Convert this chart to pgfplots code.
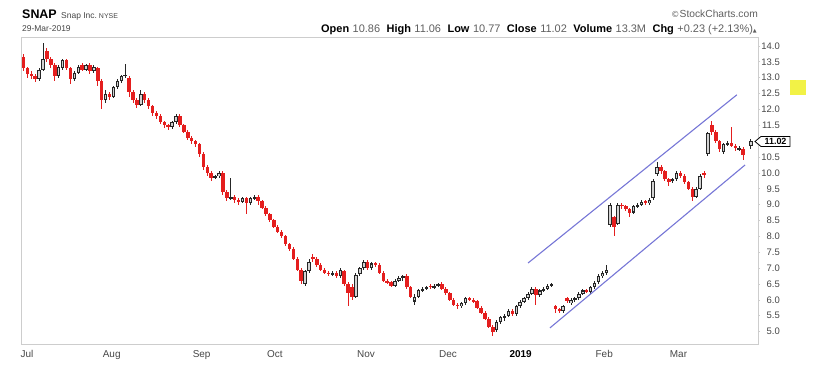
\documentclass[border=0pt]{standalone}
\usepackage{pgfplots}
\pgfplotsset{compat=1.18}
\usepackage{pgfplotstable}
\usepackage{fontspec}
\setmainfont{Liberation Sans}
\newfontfamily\dejavu{DejaVu Sans}
\definecolor{scred}{RGB}{228,30,30}
\definecolor{chan}{RGB}{118,118,214}
\definecolor{lbl}{RGB}{70,70,70}
\definecolor{valc}{RGB}{95,95,95}
\definecolor{frm}{RGB}{205,205,205}
\definecolor{ylw}{RGB}{242,242,70}
\definecolor{hol}{RGB}{210,210,210}

% daily OHLC, Jul 2 2018 -- Mar 29 2019 (trading day index = row number)
\pgfplotstableread{
o h l c
13.65 13.75 13.2 13.3
13.3 13.35 13.0 13.1
13.1 13.2 12.95 13.05
13.05 13.1 12.85 12.95
12.95 13.3 12.9 13.25
13.25 14.1 13.2 13.6
13.85 13.95 13.5 13.6
13.6 13.65 13.3 13.4
13.4 13.45 12.9 13.05
13.05 13.4 13.0 13.35
13.3 13.6 13.25 13.55
13.55 13.6 13.25 13.3
13.3 13.35 12.8 12.95
12.95 13.2 12.9 13.15
13.15 13.4 13.1 13.35
13.4 13.45 13.2 13.25
13.25 13.45 13.2 13.4
13.4 13.45 13.1 13.2
13.2 13.4 13.15 13.35
13.3 13.35 12.75 12.9
12.9 12.95 12.0 12.3
12.3 12.6 12.2 12.5
12.5 12.55 12.3 12.4
12.4 12.75 12.35 12.7
12.7 12.95 12.65 12.9
12.9 13.1 12.85 13.05
13.05 13.45 13.0 13.1
13.0 13.05 12.4 12.55
12.55 12.6 12.2 12.3
12.3 12.35 12.05 12.15
12.15 12.6 12.1 12.5
12.5 12.55 12.2 12.3
12.3 12.35 12.0 12.1
12.1 12.15 11.8 11.9
11.9 11.95 11.7 11.8
11.8 11.85 11.55 11.6
11.6 11.65 11.4 11.5
11.5 11.55 11.35 11.45
11.45 11.65 11.4 11.6
11.6 11.85 11.55 11.8
11.8 11.85 11.45 11.5
11.5 11.55 11.25 11.3
11.3 11.35 11.05 11.1
11.1 11.15 10.9 11.0
11.0 11.05 10.8 10.9
10.9 10.95 10.5 10.6
10.6 10.65 10.1 10.2
10.2 10.25 9.9 10.0
10.0 10.05 9.75 9.85
9.85 9.95 9.8 9.9
9.9 10.05 9.85 10.0
10.0 10.05 9.3 9.4
9.4 9.45 9.1 9.2
9.2 9.85 9.15 9.25
9.25 9.3 9.05 9.15
9.15 9.2 9.0 9.1
9.1 9.25 9.05 9.2
9.2 9.25 8.7 9.05
9.05 9.25 9.0 9.2
9.2 9.3 9.15 9.25
9.25 9.3 9.0 9.1
9.1 9.15 8.85 8.9
8.9 8.95 8.65 8.7
8.7 8.75 8.45 8.5
8.5 8.55 8.25 8.3
8.3 8.35 8.1 8.15
8.15 8.2 7.95 8.0
8.0 8.05 7.7 7.75
7.75 7.8 7.55 7.6
7.6 7.65 7.25 7.3
7.3 7.35 6.9 6.95
6.95 7.0 6.5 6.6
6.5 6.95 6.45 6.9
6.9 7.3 6.85 7.2
7.35 7.45 7.2 7.3
7.3 7.35 7.05 7.1
7.1 7.15 6.9 6.95
6.95 7.0 6.8 6.85
6.85 6.9 6.75 6.82
6.8 6.9 6.75 6.85
6.85 6.9 6.7 6.75
6.75 7.0 6.7 6.95
6.9 6.95 6.45 6.5
6.5 6.55 5.8 6.2
6.4 6.5 6.0 6.1
6.1 6.85 6.05 6.8
6.8 7.05 6.75 7.0
7.0 7.25 6.95 7.2
7.2 7.25 6.95 7.0
7.0 7.2 6.95 7.15
7.15 7.2 7.05 7.1
7.1 7.15 6.8 6.85
6.85 6.9 6.55 6.6
6.6 6.65 6.5 6.55
6.55 6.6 6.4 6.45
6.45 6.65 6.4 6.6
6.6 6.75 6.55 6.7
6.7 6.8 6.6 6.75
6.75 6.8 6.35 6.4
6.4 6.45 6.05 6.1
5.95 6.2 5.85 6.1
6.1 6.35 6.05 6.3
6.3 6.4 6.25 6.35
6.35 6.45 6.3 6.4
6.45 6.5 6.35 6.4
6.4 6.5 6.35 6.45
6.45 6.55 6.4 6.5
6.5 6.55 6.3 6.35
6.35 6.4 6.15 6.2
6.2 6.25 5.95 6.0
6.0 6.05 5.8 5.85
5.85 5.9 5.7 5.8
5.8 5.95 5.75 5.9
5.9 6.1 5.85 6.05
6.05 6.1 5.95 6.0
6.0 6.05 5.9 5.95
5.95 6.0 5.7 5.75
5.75 5.8 5.55 5.6
5.6 5.65 5.35 5.4
5.4 5.45 5.1 5.15
5.15 5.2 4.85 5.0
5.05 5.35 5.0 5.3
5.3 5.5 5.25 5.45
5.45 5.55 5.35 5.5
5.5 5.7 5.45 5.65
5.65 5.7 5.5 5.55
5.55 5.85 5.5 5.8
5.8 6.0 5.75 5.95
5.95 6.1 5.9 6.05
6.05 6.25 6.0 6.2
6.2 6.4 6.15 6.35
6.35 6.4 5.85 6.15
6.15 6.35 6.1 6.3
6.3 6.4 6.25 6.35
6.35 6.5 6.3 6.45
6.45 6.55 6.4 6.5
5.8 5.85 5.6 5.7
5.7 5.75 5.6 5.65
5.65 5.85 5.6 5.8
6.05 6.1 5.9 5.95
5.9 6.05 5.85 6.0
6.0 6.1 5.95 6.05
6.05 6.25 6.0 6.2
6.2 6.35 6.15 6.3
6.3 6.35 6.2 6.25
6.25 6.45 6.2 6.4
6.4 6.6 6.35 6.55
6.55 6.8 6.5 6.75
6.75 6.9 6.7 6.85
6.85 7.1 6.8 6.95
8.35 9.05 8.3 9.0
8.6 8.65 8.0 8.3
8.4 9.05 8.35 9.0
9.0 9.05 8.85 8.95
8.95 9.0 8.8 8.85
8.85 8.9 8.6 8.75
8.75 9.0 8.7 8.95
8.95 9.05 8.9 9.0
9.0 9.15 8.95 9.1
9.1 9.15 9.0 9.05
9.05 9.2 9.0 9.15
9.2 9.8 9.15 9.75
9.95 10.35 9.9 10.2
10.2 10.25 9.95 10.05
10.05 10.1 9.75 9.8
9.8 9.85 9.6 9.7
9.75 9.85 9.7 9.8
9.8 10.05 9.75 10.0
10.0 10.05 9.85 9.9
9.9 9.95 9.65 9.7
9.7 9.75 9.45 9.5
9.5 9.55 9.1 9.25
9.25 9.55 9.2 9.5
9.5 9.95 9.45 9.9
10.0 10.05 9.85 9.95
10.6 11.3 10.55 11.25
11.5 11.65 11.2 11.3
11.3 11.35 10.95 11.0
11.0 11.05 10.65 10.75
10.65 10.95 10.6 10.9
10.9 11.0 10.85 10.95
10.95 11.45 10.8 10.85
10.85 10.9 10.7 10.8
10.75 10.85 10.7 10.78
10.75 10.8 10.4 10.55
10.6 10.85 10.55 10.79
10.86 11.06 10.77 11.02
}\snap

\newcommand{\hv}[2]{\textbf{#1}\hspace{3.5bp}\textcolor{valc}{#2}}

\begin{document}
\begin{tikzpicture}
\path[use as bounding box] (0,0) rectangle (827bp,374bp);
\begin{axis}[
  at={(21bp,30bp)}, anchor=south west,
  scale only axis, width=737bp, height=307bp,
  xmin=-0.64, xmax=187.8, ymin=4.611, ymax=14.284,
  declare function={upd(\a,\b)=((\b-\a)+abs(\b-\a))/(2*abs(\b-\a)+0.000001);
                    bodyerr(\a,\b)=(abs(\b-\a)/2+0.018+abs(abs(\b-\a)/2-0.018))/2;
                    innerr(\a,\b)=(abs(\b-\a)/2-0.034+abs(abs(\b-\a)/2-0.034))/2;},
  candle/.style={draw=none, mark=none, forget plot},
  axis line style={frm, line width=0.8bp},
  /pgf/number format/assume math mode=true,
  ytick={5,5.5,6,6.5,7,7.5,8,8.5,9,9.5,10,10.5,11.5,12,12.5,13,13.5,14},
  yticklabel pos=right, ytick pos=right,
  tick align=outside, major tick length=2bp,
  ytick style={draw=frm, line width=0.6bp},
  yticklabel style={anchor=east, inner sep=0pt, xshift=20bp, text=lbl,
    font=\fontsize{9.5}{10}\selectfont,
    /pgf/number format/.cd, fixed, fixed zerofill, precision=1},
  xtick={0,21,44,63,86,107,126,147,166},
  xticklabels={Jul,Aug,Sep,Oct,Nov,Dec,{\hspace*{-4bp}\textcolor{black}{\textbf{2019}}},Feb,Mar},
  xtick style={draw=none},
  xticklabel style={anchor=north west, inner sep=0pt, xshift=-3bp, yshift=-4.5bp,
    text=lbl, font=\fontsize{10}{11}\selectfont},
  clip=true,
]
% wicks, up days
\addplot[candle, error bars/.cd, y dir=both, y explicit, error mark=none,
  error bar style={draw=black!85, line width=1bp}]
  table[x expr=\coordindex,
        y expr={(\thisrow{h}+\thisrow{l})/2-200*(1-upd(\thisrow{o},\thisrow{c}))},
        y error expr={(\thisrow{h}-\thisrow{l})/2}] {\snap};
% wicks, down days
\addplot[candle, error bars/.cd, y dir=both, y explicit, error mark=none,
  error bar style={draw=scred, line width=1bp}]
  table[x expr=\coordindex,
        y expr={(\thisrow{h}+\thisrow{l})/2-200*upd(\thisrow{o},\thisrow{c})},
        y error expr={(\thisrow{h}-\thisrow{l})/2}] {\snap};
% bodies, up days (hollow)
\addplot[candle, error bars/.cd, y dir=both, y explicit, error mark=none,
  error bar style={draw=black!85, line width=3.5bp}]
  table[x expr=\coordindex,
        y expr={(\thisrow{o}+\thisrow{c})/2-200*(1-upd(\thisrow{o},\thisrow{c}))},
        y error expr={bodyerr(\thisrow{o},\thisrow{c})}] {\snap};
\addplot[candle, error bars/.cd, y dir=both, y explicit, error mark=none,
  error bar style={draw=hol, line width=1.5bp}]
  table[x expr=\coordindex,
        y expr={(\thisrow{o}+\thisrow{c})/2-200*(1-upd(\thisrow{o},\thisrow{c}))},
        y error expr={innerr(\thisrow{o},\thisrow{c})}] {\snap};
% bodies, down days (filled red)
\addplot[candle, error bars/.cd, y dir=both, y explicit, error mark=none,
  error bar style={draw=scred, line width=3.5bp}]
  table[x expr=\coordindex,
        y expr={(\thisrow{o}+\thisrow{c})/2-200*upd(\thisrow{o},\thisrow{c})},
        y error expr={bodyerr(\thisrow{o},\thisrow{c})}] {\snap};
% trend channel
\addplot[chan, line width=1.1bp] coordinates {(129.0,7.16) (182.4,12.46)};
\addplot[chan, line width=1.1bp] coordinates {(134.6,5.115) (184.5,10.25)};
\end{axis}
% header
\node[anchor=base west, inner sep=0pt] at (22bp,355.5bp) {\fontsize{12.5}{13}\selectfont\bfseries SNAP};
\node[anchor=base west, inner sep=0pt, text=lbl] at (61bp,355.5bp) {\fontsize{8.5}{9}\selectfont Snap Inc.\hspace{2bp}{\fontsize{7}{8}\selectfont NYSE}};
\node[anchor=base west, inner sep=0pt, text=lbl] at (22bp,342bp) {\fontsize{8.5}{9}\selectfont 29-Mar-2019};
\node[anchor=base east, inner sep=0pt, text=valc] at (758bp,356bp) {\fontsize{10.3}{11}\selectfont {\dejavu\fontsize{8.5}{9}\selectfont ©}StockCharts.com};
\node[anchor=base east, inner sep=0pt] at (757bp,341.5bp) {\fontsize{11}{12}\selectfont
  \hv{Open}{10.86}\hspace{6.5bp}\hv{High}{11.06}\hspace{6.5bp}\hv{Low}{10.77}\hspace{6.5bp}\hv{Close}{11.02}\hspace{6.5bp}\hv{Volume}{13.3M}\hspace{6.5bp}\hv{Chg}{+0.23 (+2.13\%)}{\dejavu\fontsize{5}{6}\selectfont\textcolor{valc}{▲}}};
% last price marker
\draw[black, line width=0.8bp, fill=white] (755bp,232.5bp) -- (761bp,237.5bp) -- (790bp,237.5bp) -- (790bp,227.5bp) -- (761bp,227.5bp) -- cycle;
\node[anchor=center, inner sep=0pt] at (775.5bp,232.3bp) {\fontsize{9}{9}\selectfont\bfseries 11.02};
% yellow marker
\fill[ylw] (790bp,279bp) rectangle (806bp,294bp);
\end{tikzpicture}
\end{document}
